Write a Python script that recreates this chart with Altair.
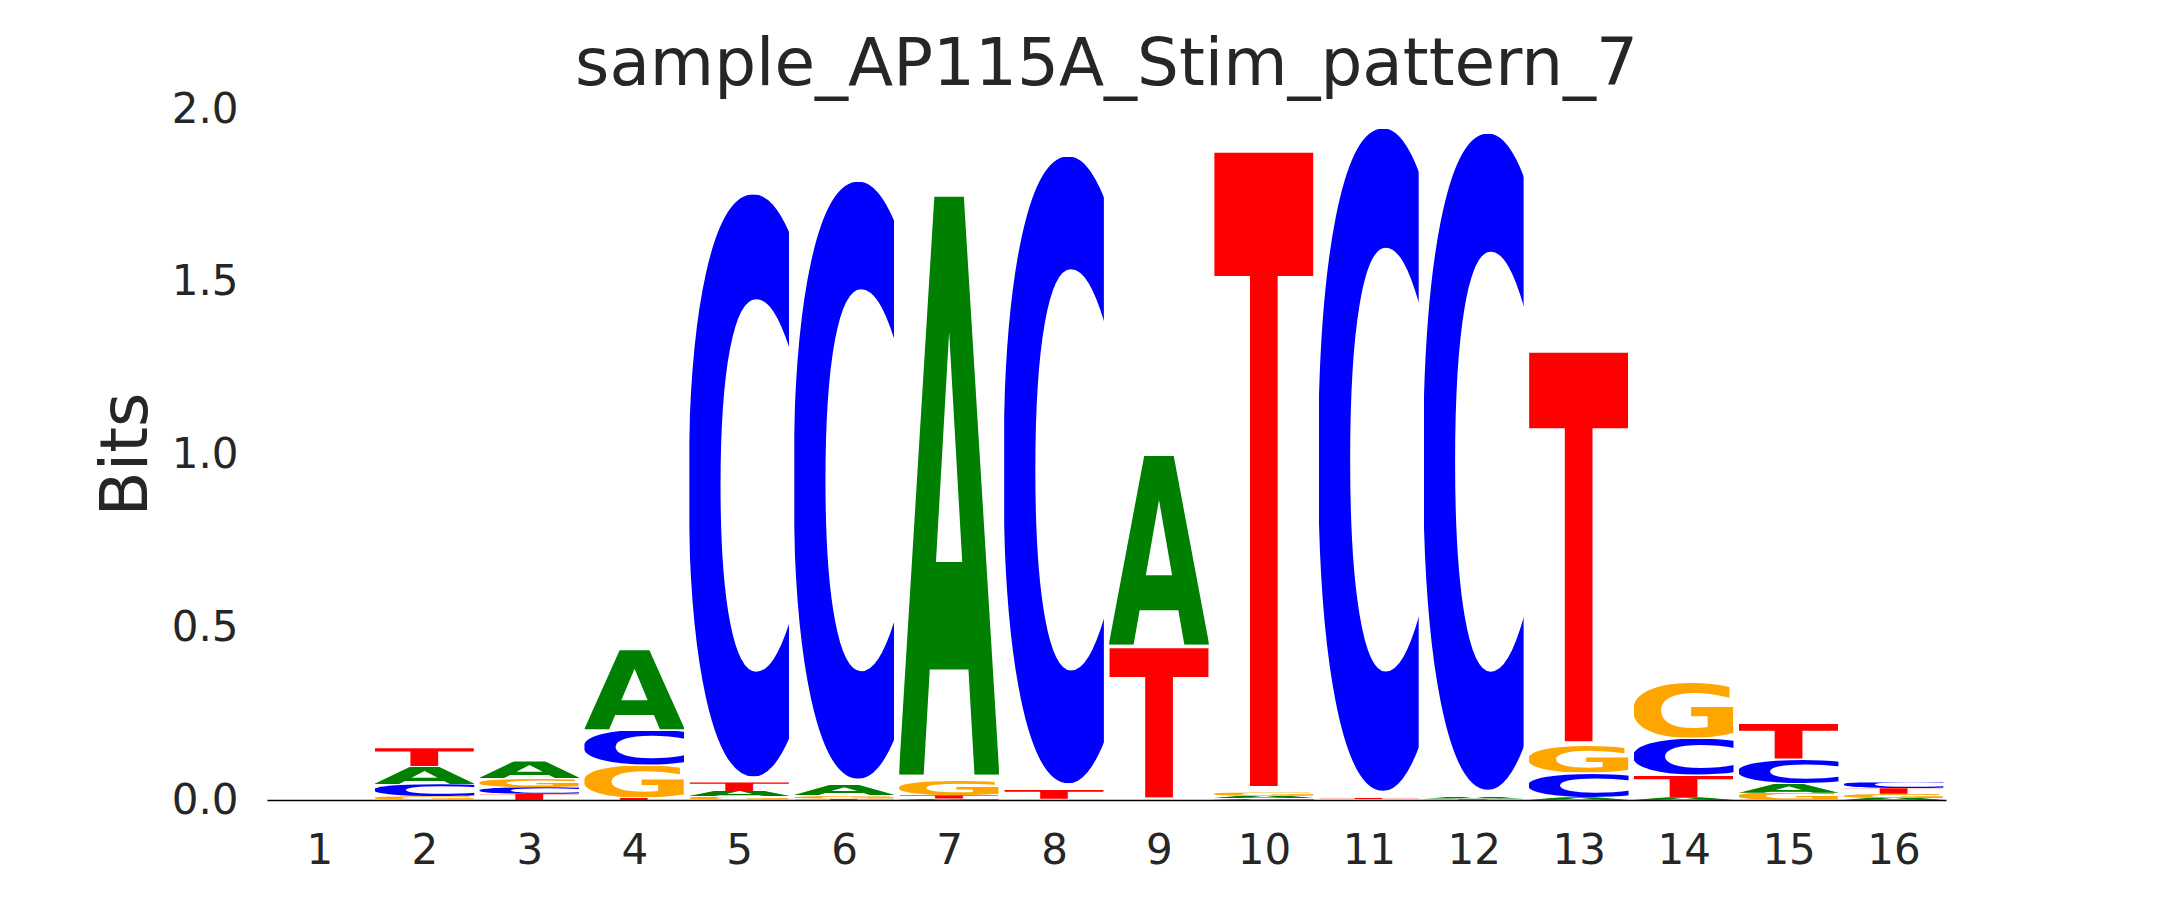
import base64
import altair as alt
import pandas as pd

# ---- data (bits per letter at each position) ----
positions = list(range(1, 17))
letters = ["A", "C", "G", "T"]
A_vals = [0.0, 0.051, 0.050, 0.234, 0.016, 0.031, 1.708, 0.001, 0.558, 0.007, 0.001, 0.006, 0.008, 0.008, 0.026, 0.006]
C_vals = [0.0, 0.035, 0.019, 0.102, 1.719, 1.763, 0.004, 1.851, 0.001, 0.005, 1.956, 1.938, 0.071, 0.108, 0.072, 0.017]
G_vals = [0.0, 0.011, 0.025, 0.093, 0.010, 0.009, 0.042, 0.002, 0.001, 0.010, 0.001, 0.001, 0.079, 0.164, 0.021, 0.012]
T_vals = [0.0, 0.053, 0.018, 0.007, 0.025, 0.004, 0.010, 0.027, 0.442, 1.871, 0.005, 0.003, 1.149, 0.063, 0.106, 0.016]
y_ticks = [0.0, 0.5, 1.0, 1.5, 2.0]
title_text = "sample_AP115A_Stim_pattern_7"

colors = {"A": "#008000", "C": "#0000FF", "G": "#FFA500", "T": "#FF0000"}
# glyph bounding boxes (DejaVu Sans Bold, font-size 1000): x0, y0, w, h
bbox = {
    "A": (8, -729, 758, 729),
    "C": (55, -742, 605, 756),
    "G": (55, -742, 695, 756),
    "T": (3, -729, 677, 729),
}
letter_width = 0.95
vpad = 0.02


def glyph_url(letter):
    x0, y0, w, h = bbox[letter]
    svg = (
        f'<svg xmlns="http://www.w3.org/2000/svg" width="{w}" height="{h}" '
        f'viewBox="{x0} {y0} {w} {h}" preserveAspectRatio="none">'
        f'<text x="0" y="0" font-family="DejaVu Sans" font-weight="bold" '
        f'font-size="1000" fill="{colors[letter]}">{letter}</text></svg>'
    )
    return "data:image/svg+xml;base64," + base64.b64encode(svg.encode()).decode()


urls = {l: glyph_url(l) for l in letters}
vals = {"A": A_vals, "C": C_vals, "G": G_vals, "T": T_vals}

rows = []
for i, p in enumerate(positions):
    col = sorted([(vals[l][i], l) for l in letters], key=lambda t: t[0])
    floor = 0.0
    for v, l in col:
        if v <= 0:
            continue
        rows.append({
            "pos": p, "letter": l, "bits": v,
            "x0": p - letter_width / 2, "x1": p + letter_width / 2,
            "y0": floor + vpad / 2 * v, "y1": floor + v - vpad / 2 * v,
            "url": urls[l],
        })
        floor += v
df = pd.DataFrame(rows)

FONT = "DejaVu Sans"
TXT = "#262626"

chart = alt.Chart(df).mark_image(aspect=False).encode(
    x=alt.X("x0:Q",
            scale=alt.Scale(domain=[0.5, 16.5], nice=False, zero=False),
            axis=alt.Axis(values=positions, format="d", title=None, grid=False,
                          ticks=False, tickSize=0, domain=True, domainColor="#000000",
                          domainWidth=1.5, labelFontSize=42, labelPadding=30,
                          labelColor=TXT, labelFont=FONT, labelFlush=False)),
    x2="x1:Q",
    y=alt.Y("y0:Q",
            scale=alt.Scale(domain=[0, 2], nice=False, zero=True),
            axis=alt.Axis(values=y_ticks, format=".1f", title="Bits", grid=False,
                          ticks=False, tickSize=0, domain=False,
                          labelFontSize=42, labelPadding=29, labelColor=TXT,
                          labelFont=FONT, labelFlush=False,
                          titleFontSize=66, titleFont=FONT, titleColor=TXT,
                          titleFontWeight="normal", titleAngle=270,
                          titleX=-121, titleY=345, titleAlign="center",
                          titleBaseline="alphabetic")),
    y2="y1:Q",
    url="url:N",
).properties(
    width=1679,
    height=691,
    title=alt.TitleParams(title_text, fontSize=66, font=FONT, fontWeight="normal",
                          color=TXT, anchor="middle", frame="group",
                          baseline="alphabetic", offset=25, dy=88),
    autosize=alt.AutoSizeParams(type="none"),
    padding={"left": 259, "top": 101, "right": 150, "bottom": 80},
    background="white",
).configure_view(stroke=None)

chart.save("out.html", embed_options={"renderer": "svg", "actions": False})
